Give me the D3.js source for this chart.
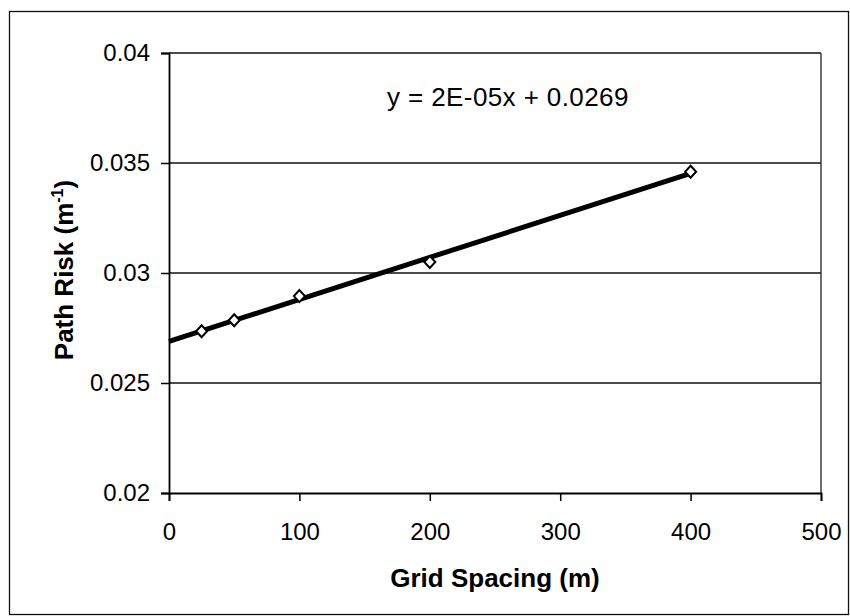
<!DOCTYPE html>
<html>
<head>
<meta charset="utf-8">
<script src="https://cdn.jsdelivr.net/npm/d3@7"></script>
<style>
  html, body { margin: 0; padding: 0; background: #fff; }
  svg { display: block; font-family: "Liberation Sans", Arial, sans-serif; }
</style>
</head>
<body>
<svg id="chart" width="850" height="616"></svg>
<script>
// Grid spacing (m) and the resulting path risk (per metre)
const gridSpacing = [25, 50, 100, 200, 400];
const pathRisk = [0.02735, 0.02785, 0.02895, 0.0305, 0.0346];

const xTicks = [0, 100, 200, 300, 400, 500];
const yTicks = [0.02, 0.025, 0.03, 0.035, 0.04];

const xTitle = "Grid Spacing (m)";
const yTitle = "Path Risk (m";
const yTitleSup = "-1";

const svg = d3.select("#chart");

// outer chart frame
svg.append("rect")
  .attr("x", 9.5).attr("y", 11.5)
  .attr("width", 839).attr("height", 603)
  .attr("fill", "none").attr("stroke", "#111").attr("stroke-width", 1.3);

const plot = { left: 169, right: 821, top: 53, bottom: 493 };

const x = d3.scaleLinear().domain([0, 500]).range([plot.left, plot.right]);
const y = d3.scaleLinear().domain([0.02, 0.04]).range([plot.bottom, plot.top]);

// horizontal gridlines
svg.append("g")
  .selectAll("line")
  .data(yTicks.filter(v => v > 0.02))
  .join("line")
  .attr("x1", plot.left).attr("x2", plot.right)
  .attr("y1", d => y(d)).attr("y2", d => y(d))
  .attr("stroke", "#111").attr("stroke-width", 1.5);

// right edge of the plot area
svg.append("line")
  .attr("x1", plot.right).attr("x2", plot.right)
  .attr("y1", plot.top).attr("y2", plot.bottom)
  .attr("stroke", "#222").attr("stroke-width", 1.3);

// axes
const fmtY = d => d3.format(".3~f")(d);
const yAxis = d3.axisLeft(y).tickValues(yTicks).tickFormat(fmtY).tickSize(8).tickPadding(11);
const xAxis = d3.axisBottom(x).tickValues(xTicks).tickFormat(d3.format("d")).tickSize(8).tickPadding(22);

const gy = svg.append("g").attr("transform", `translate(${plot.left},0)`).call(yAxis);
const gx = svg.append("g").attr("transform", `translate(0,${plot.bottom})`).call(xAxis);

[gx, gy].forEach(g => {
  g.select(".domain").attr("stroke", "#000").attr("stroke-width", 1.8);
  g.selectAll(".tick line").attr("stroke", "#000").attr("stroke-width", 1.5);
  g.selectAll(".tick text")
    .attr("fill", "#000")
    .style("font-size", "24px")
    .style("font-family", "'Liberation Sans', Arial, sans-serif");
});

// least-squares trendline through the measured points
const mx = d3.mean(gridSpacing), my = d3.mean(pathRisk);
let sxy = 0, sxx = 0;
gridSpacing.forEach((g, i) => { sxy += (g - mx) * (pathRisk[i] - my); sxx += (g - mx) ** 2; });
const slope = sxy / sxx;
const intercept = my - slope * mx;

const trendX = [0, d3.max(gridSpacing)];
svg.append("path")
  .datum(trendX)
  .attr("d", d3.line().x(d => x(d)).y(d => y(slope * d + intercept)))
  .attr("fill", "none").attr("stroke", "#000").attr("stroke-width", 5)
  .attr("stroke-linecap", "butt");

// data markers: hollow diamonds
svg.append("g")
  .selectAll("path")
  .data(gridSpacing.map((g, i) => [g, pathRisk[i]]))
  .join("path")
  .attr("transform", d => `translate(${x(d[0])},${y(d[1])})`)
  .attr("d", "M0,-6L5.5,0L0,6L-5.5,0Z")
  .attr("fill", "#fff").attr("stroke", "#000").attr("stroke-width", 2);

// trendline equation
const expStr = slope.toExponential(0).replace("e", "E").replace(/E([+-])(\d)$/, "E$10$2").replace("E+", "E");
const eqText = `y = ${expStr}x + ${intercept.toFixed(4)}`;
svg.append("text")
  .attr("x", 387).attr("y", 106)
  .style("font-size", "26px")
  .style("letter-spacing", "0.4px")
  .attr("fill", "#000")
  .text(eqText);

// axis titles
svg.append("text")
  .attr("x", (plot.left + plot.right) / 2).attr("y", 587)
  .attr("text-anchor", "middle")
  .style("font-size", "26px").style("font-weight", "bold")
  .text(xTitle);

const yt = svg.append("text")
  .attr("transform", `translate(73,${(plot.top + plot.bottom) / 2 - 3}) rotate(-90)`)
  .attr("text-anchor", "middle")
  .style("font-size", "26px").style("font-weight", "bold");
yt.append("tspan").text(yTitle);
yt.append("tspan").attr("dy", -10).style("font-size", "16px").text(yTitleSup);
yt.append("tspan").attr("dy", 10).text(")");
</script>
</body>
</html>
